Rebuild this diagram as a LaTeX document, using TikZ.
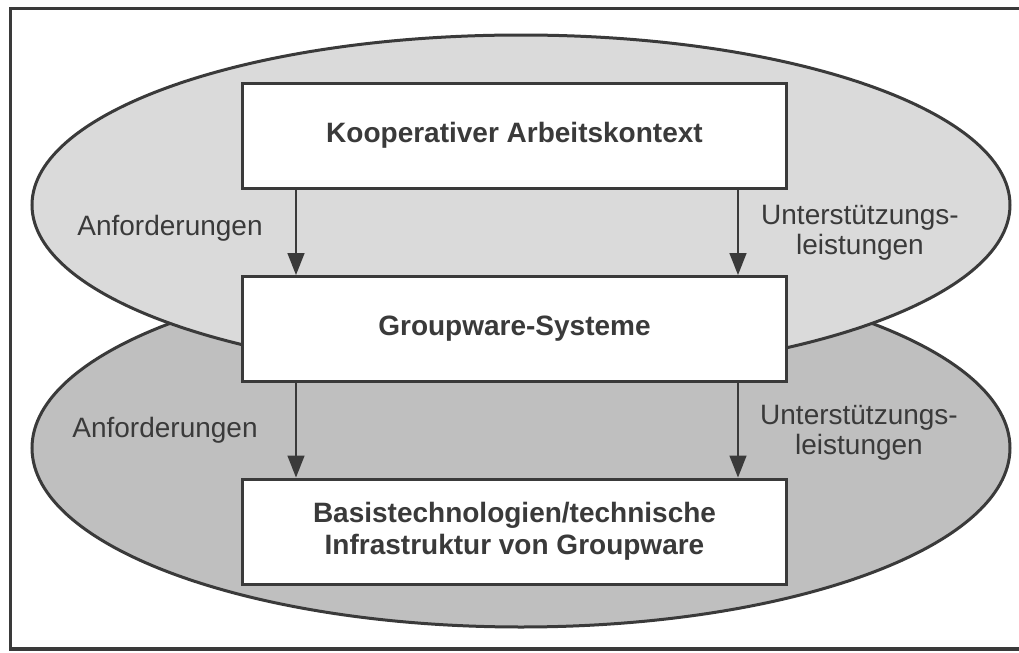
\documentclass[tikz,border=0pt]{standalone}
\usepackage{fontspec}
\setmainfont{Liberation Sans}
\usetikzlibrary{arrows.meta}
\definecolor{ink}{HTML}{3A3A3A}
\definecolor{upperfill}{HTML}{DADADA}
\definecolor{lowerfill}{HTML}{BFBFBF}
\tikzset{
  layerbox/.style={draw=ink, line width=1.5pt, fill=white, rectangle,
    minimum width=272pt, minimum height=52.5pt, align=center,
    font=\fontsize{14}{16}\selectfont\bfseries, text=ink, inner sep=0pt},
  flowlabel/.style={align=center, font=\fontsize{14}{15}\selectfont, text=ink, inner sep=0pt},
  flow/.style={draw=ink, line width=0.8pt, -{Triangle[width=8.5pt,length=11pt]}},
  layer/.style={draw=ink, line width=1.5pt}
}
\begin{document}
\begin{tikzpicture}[x=0.5pt, y=-0.5pt]
  \useasboundingbox (0,0) rectangle (1019,653);
  \clip (0,0) rectangle (1019,653);
  \fill[white] (0,0) rectangle (1019,653);
  % outer frame, right edge runs off the page
  \draw[ink, line width=1.5pt] (1040,8) -- (10,8) -- (10,649);
  \draw[ink, line width=2.2pt] (9,649) -- (1040,649);

  % the two layers
  \draw[layer, fill=lowerfill] (521,448) ellipse [x radius=489, y radius=179];
  \draw[layer, fill=upperfill] (521,205) ellipse [x radius=489, y radius=170];

  % boxes
  \node[layerbox] (ctx) at (514.5,135.5) {Kooperativer Arbeitskontext};
  \node[layerbox] (gws) at (514.5,329) {Groupware-Systeme};
  \node[layerbox] (base) at (514.5,531.5) {Basistechnologien/technische\\Infrastruktur von Groupware};

  % connectors
  \draw[flow] ([xshift=27.5pt]ctx.south west) -- ([xshift=27.5pt]gws.north west);
  \draw[flow] ([xshift=-25pt]ctx.south east) -- ([xshift=-25pt]gws.north east);
  \draw[flow] ([xshift=27.5pt]gws.south west) -- ([xshift=27.5pt]base.north west);
  \draw[flow] ([xshift=-25pt]gws.south east) -- ([xshift=-25pt]base.north east);

  % labels
  \node[flowlabel] (req1) at (170,228) {Anforderungen};
  \node[flowlabel] (sup1) at (860,233) {Unterstützungs-\\leistungen};
  \node[flowlabel] (req2) at (165,430) {Anforderungen};
  \node[flowlabel] (sup2) at (859,433) {Unterstützungs-\\leistungen};
\end{tikzpicture}
\end{document}
